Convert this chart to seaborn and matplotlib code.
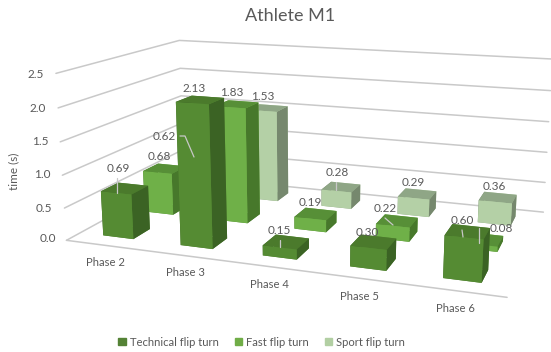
import seaborn as sns
import matplotlib
matplotlib.use("Agg")
import matplotlib.pyplot as plt
from matplotlib.lines import Line2D
from matplotlib.patches import Patch

phases = ["Phase 2", "Phase 3", "Phase 4", "Phase 5", "Phase 6"]
series_names = ["Technical flip turn", "Fast flip turn", "Sport flip turn"]
technical = [0.69, 2.13, 0.15, 0.30, 0.60]
fast = [0.68, 1.83, 0.19, 0.22, 0.08]
sport = [0.62, 1.53, 0.28, 0.29, 0.36]
value_ticks = [0.0, 0.5, 1.0, 1.5, 2.0, 2.5]

# face shades per series: front, top, side
face_shades = [("#558B33", "#4B7A2C", "#3B6324"),
               ("#6FB048", "#578F37", "#47782B"),
               ("#B4D0A6", "#8FA686", "#76886E")]
legend_colors = ["#548235", "#70AD47", "#B2CFA3"]

# text anchors in pixels from the top-left corner of the figure
value_label_px = [[(118, 169), (194, 89), (279, 231), (367, 232), (462, 220)],
                  [(159, 157), (232, 93), (310, 203), (385, 209), (501, 228)],
                  [(164, 137), (263, 96), (337, 172), (413, 182), (494, 186)]]
tick_label_px = [(56, 239), (52, 208), (51, 175), (49, 142), (46, 108), (44, 74)]
phase_label_px = [(105, 263), (185, 273), (269, 284), (359, 296), (455, 308)]

# leader lines joining some labels to their bars
leaders = [[(117, 178), (117, 193)],
           [(180, 136), (185, 136), (194, 157)],
           [(280, 240), (280, 247)],
           [(336, 182), (336, 190)],
           [(385, 218), (393, 225)],
           [(462, 230), (463, 237)],
           [(479, 228), (479, 243)]]

sns.set_theme(style="white")
plt.rcParams["font.family"] = ["Lato", "DejaVu Sans"]
TEXT = "#595959"
GRID = "#C9C9C9"
W, H = 551, 352

fig = plt.figure(figsize=(5.51, 3.52), dpi=100)
ax = fig.add_axes([0.2125, 0.0166, 0.702, 1.1], projection="3d", computed_zorder=False)
ax.set_proj_type("persp", focal_length=0.467)
ax.view_init(elev=13.75, azim=-70.47, roll=-0.05)
ax.set_xlim(0, 5, view_margin=0)
ax.set_ylim(0, 3, view_margin=0)
ax.set_zlim(0, 2.5, view_margin=0)
ax.set_box_aspect((417.1, 243.7, 160.7), zoom=1.307)
ax.set_axis_off()

for v in value_ticks:
    ax.plot([0, 0, 5], [0, 3, 3], [v, v, v], color=GRID, lw=1.1, zorder=1, clip_on=False)
ax.plot([0, 5], [0, 0], [0, 0], color=GRID, lw=1.1, zorder=1, clip_on=False)

width = 0.396
rows = [technical, fast, sport]
for r in (2, 1, 0):
    for c in range(5):
        front, top, side = face_shades[r]
        colors = [top, top, front, front, side, side]
        bars = ax.bar3d(c + 0.5 - width / 2, r + 0.5 - width / 2, 0, width, width,
                        rows[r][c], color=colors, shade=False, edgecolor=None,
                        linewidth=0, zorder=10 + (2 - r) * 10 + c)
        bars.set_clip_on(False)


def place(x, y, label, **kw):
    fig.text(x / W, 1 - y / H, label, va="center", color=TEXT, zorder=100, **kw)


for points in leaders:
    xs = [p[0] / W for p in points]
    ys = [1 - p[1] / H for p in points]
    fig.add_artist(Line2D(xs, ys, color="#C8C8C8", lw=0.9, zorder=90))

for r, row in enumerate(rows):
    for c, value in enumerate(row):
        x, y = value_label_px[r][c]
        place(x, y, f"{value:.2f}", ha="center", fontsize=8.5)

for v, (x, y) in zip(value_ticks, tick_label_px):
    place(x, y, f"{v:.1f}", ha="right", fontsize=8.5)

for name, (x, y) in zip(phases, phase_label_px):
    place(x, y, name, ha="center", fontsize=8.1)

place(14, 171, "time (s)", rotation=90, ha="center", fontsize=8.5)
place(290.5, 16, "Athlete M1", ha="center", fontsize=13)

fig.legend(handles=[Patch(color=col, label=n) for col, n in zip(legend_colors, series_names)],
           loc="center", bbox_to_anchor=(0.475, 1 - 342 / H), ncol=3, frameon=False,
           fontsize=8.1, labelcolor=TEXT, handlelength=0.65, handleheight=0.65,
           handletextpad=0.35, columnspacing=1.45, borderpad=0)

fig.savefig("out.png", dpi=100)
